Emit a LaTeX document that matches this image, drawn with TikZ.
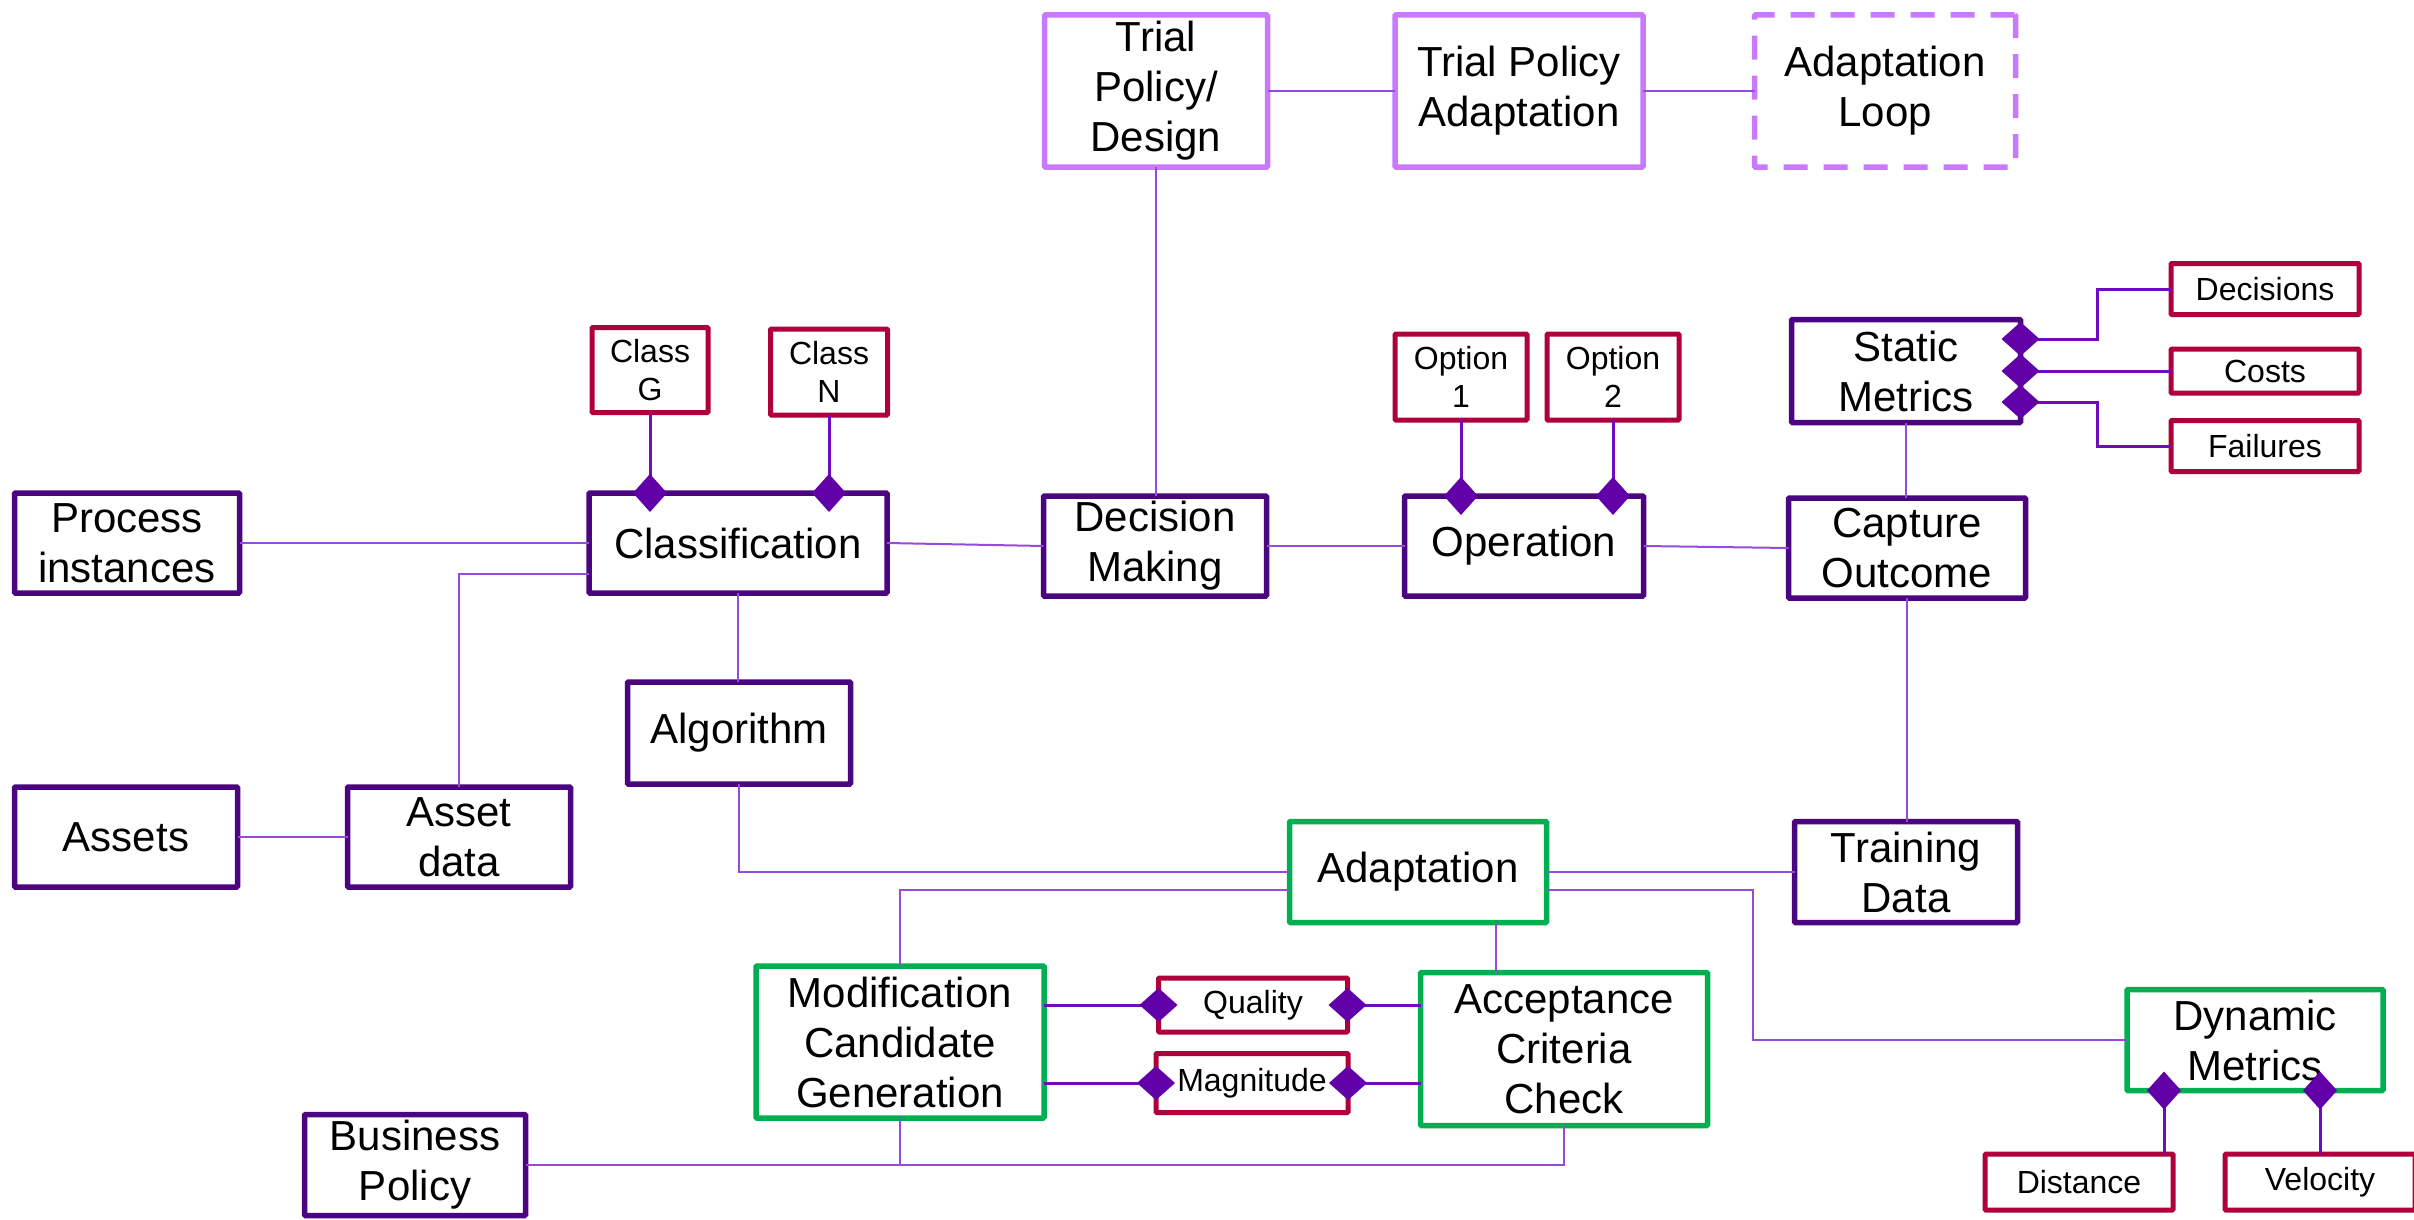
\documentclass[tikz,border=0pt]{standalone}
\usepackage{fontspec}
\setmainfont{Liberation Sans}
\usetikzlibrary{arrows.meta,calc}
\definecolor{dpurple}{RGB}{75,5,128}
\definecolor{crim}{RGB}{176,0,60}
\definecolor{mgreen}{RGB}{0,176,80}
\definecolor{lpurple}{RGB}{200,122,255}
\definecolor{connc}{RGB}{150,75,220}
\definecolor{dconn}{RGB}{110,12,190}
\definecolor{diac}{RGB}{98,0,168}
\newcommand{\bigf}{\fontsize{42}{50}\selectfont}
\newcommand{\smf}{\fontsize{32}{38}\selectfont}
\tikzset{
  base/.style={draw, rectangle, align=center, inner sep=0pt, outer sep=0pt, fill=white, rounded corners=1pt},
  bigbox/.style={base, line width=5.5pt, font=\bigf},
  pbox/.style={bigbox, draw=dpurple},
  gbox/.style={bigbox, draw=mgreen},
  lbox/.style={bigbox, draw=lpurple},
  rbox/.style={base, line width=5pt, draw=crim, font=\smf},
  conn/.style={draw=connc, line width=2pt},
  comp/.style={draw=dconn, line width=3pt, shorten >=-19pt,
    -{Diamond[width=34pt,length=38pt,line width=0pt,fill=diac,color=diac]}},
}
\begin{document}
\begin{tikzpicture}[x=1pt,y=-1pt]
\useasboundingbox (0,0) rectangle (2414,1220);
\fill[white] (0,0) rectangle (2414,1220);

% top row
\node[lbox, minimum width=223pt, minimum height=152pt] (tpd) at (1156,91) {Trial\\Policy/\\Design};
\node[lbox, minimum width=248pt, minimum height=152pt] (tpa) at (1519,91) {Trial Policy\\Adaptation};
\node[lbox, dash pattern=on 24pt off 16pt, minimum width=261pt, minimum height=152pt] (loop) at (1885,91) {Adaptation\\Loop};

% small red boxes
\node[rbox, minimum width=116pt, minimum height=85pt] (classG) at (650,370) {Class\\G};
\node[rbox, minimum width=117pt, minimum height=86pt] (classN) at (829,372) {Class\\N};
\node[rbox, minimum width=132pt, minimum height=86pt] (opt1) at (1461,377) {Option\\1};
\node[rbox, minimum width=132pt, minimum height=86pt] (opt2) at (1613,377) {Option\\2};
\node[rbox, minimum width=188pt, minimum height=51pt] (decisions) at (2265,289) {Decisions};
\node[rbox, minimum width=188pt, minimum height=44pt] (costs) at (2265,371) {Costs};
\node[rbox, minimum width=188pt, minimum height=51pt] (failures) at (2265,446) {Failures};
\node[rbox, minimum width=189pt, minimum height=54pt] (quality) at (1253,1005) {Quality};
\node[rbox, minimum width=192pt, minimum height=59pt] (magnitude) at (1252,1083) {Magnitude};
\node[rbox, minimum width=188pt, minimum height=56pt] (distance) at (2079,1182) {Distance};
\node[rbox, minimum width=190pt, minimum height=56pt] (velocity) at (2320,1182) {Velocity};

% main purple boxes
\node[pbox, minimum width=229pt, minimum height=103pt] (static) at (1906,371) {Static\\Metrics};
\node[pbox, minimum width=225pt, minimum height=100pt] (process) at (127,543) {Process\\instances};
\node[pbox, minimum width=298pt, minimum height=100pt] (classif) at (738,543) {Classification};
\node[pbox, minimum width=223pt, minimum height=100pt] (decision) at (1155,546) {Decision\\Making};
\node[pbox, minimum width=239pt, minimum height=100pt] (operation) at (1524,546) {Operation};
\node[pbox, minimum width=237pt, minimum height=100pt] (capture) at (1907,548) {Capture\\Outcome};
\node[pbox, minimum width=223pt, minimum height=102pt] (algorithm) at (739,733) {Algorithm};
\node[pbox, minimum width=223pt, minimum height=100pt] (assets) at (126,837) {Assets};
\node[pbox, minimum width=223pt, minimum height=100pt] (assetdata) at (459,837) {Asset\\data};
\node[pbox, minimum width=223pt, minimum height=101pt] (training) at (1906,872) {Training\\Data};
\node[pbox, minimum width=221pt, minimum height=101pt] (business) at (415,1165) {Business\\Policy};

% green boxes
\node[gbox, minimum width=257pt, minimum height=101pt] (adaptation) at (1418,872) {Adaptation};
\node[gbox, minimum width=288pt, minimum height=152pt] (mcg) at (900,1042) {Modification\\Candidate\\Generation};
\node[gbox, minimum width=287pt, minimum height=153pt] (acc) at (1564,1049) {Acceptance\\Criteria\\Check};
\node[gbox, minimum width=256pt, minimum height=101pt] (dynamic) at (2255,1040) {Dynamic\\Metrics};

% plain connectors
\draw[conn] (process.east) -- (process.east -| classif.west);
\coordinate (cl1) at ($(classif.west)+(0,31)$);
\draw[conn] (cl1) -| (assetdata.north);
\draw[conn] (assets.east) -- (assetdata.west);
\draw[conn] (classif.south) -- (classif.south |- algorithm.north);
\draw[conn] (algorithm.south) |- (adaptation.west);
\draw[conn] (classif.east) -- (decision.west);
\draw[conn] (tpd.south) -- (tpd.south |- decision.north);
\draw[conn] (tpd.east) -- (tpa.west);
\draw[conn] (tpa.east) -- (loop.west);
\draw[conn] (decision.east) -- (operation.west);
\draw[conn] (operation.east) -- (capture.west);
\draw[conn] (static.south) -- (static.south |- capture.north);
\draw[conn] (capture.south) -- (capture.south |- training.north);
\draw[conn] (training.west) -- (adaptation.east);
\coordinate (ad1) at ($(adaptation.west)+(0,18)$);
\draw[conn] (ad1) -| (mcg.north);
\coordinate (ad2) at ($(adaptation.south)+(78,0)$);
\draw[conn] (ad2) -- (ad2 |- acc.north);
\coordinate (ad3) at ($(adaptation.east)+(0,18)$);
\draw[conn] (ad3) -- ++(206,0) |- (dynamic.west);
\draw[conn] (mcg.south) |- (business.east);
\draw[conn] (acc.south) |- (mcg.south |- business.east);

% composition connectors with diamonds
\draw[comp] (classG.south) -- (classG.south |- classif.north);
\draw[comp] (classN.south) -- (classN.south |- classif.north);
\draw[comp] (opt1.south) -- (opt1.south |- operation.north);
\draw[comp] (opt2.south) -- (opt2.south |- operation.north);
\draw[comp] (decisions.west) -- ++(-74,0) |- ($(static.east)+(0,-32)$);
\draw[comp] (costs.west) -- (static.east);
\draw[comp] (failures.west) -- ++(-74,0) |- ($(static.east)+(0,31)$);
\draw[comp] (mcg.east |- quality.west) -- (quality.west);
\draw[comp] (acc.west |- quality.east) -- (quality.east);
\draw[comp] (mcg.east |- magnitude.west) -- (magnitude.west);
\draw[comp] (acc.west |- magnitude.east) -- (magnitude.east);
\coordinate (dd) at ($(distance.north)+(85,0)$);
\draw[comp] (dd) -- (dd |- dynamic.south);
\draw[comp] (velocity.north) -- (velocity.north |- dynamic.south);
\end{tikzpicture}
\end{document}
